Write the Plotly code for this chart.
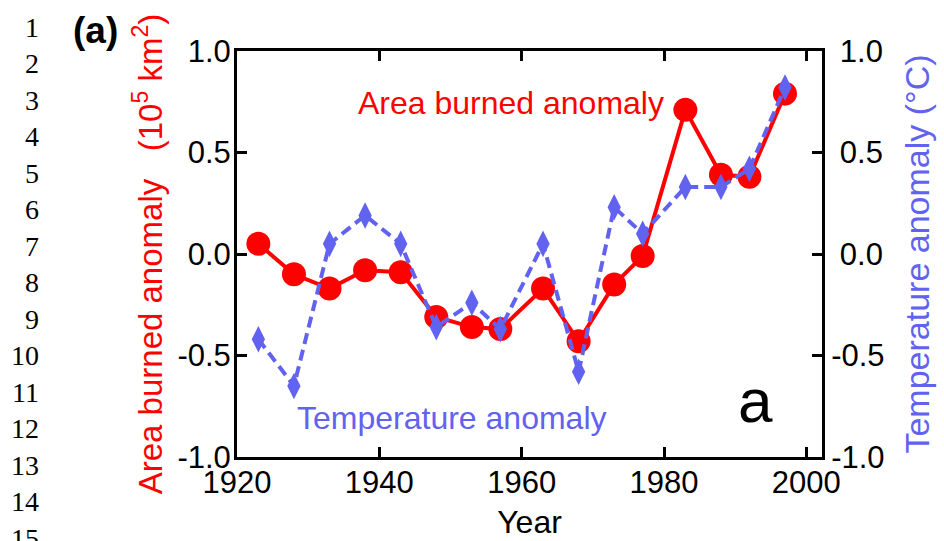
import plotly.graph_objects as go

# ---- data ----
years = [1923, 1928, 1933, 1938, 1943, 1948, 1953, 1957, 1963, 1968, 1973, 1977, 1983, 1988, 1992, 1997]
area_anomaly = [0.05, -0.10, -0.17, -0.08, -0.09, -0.31, -0.36, -0.37, -0.17, -0.43, -0.15, -0.01, 0.71, 0.39, 0.38, 0.79]
temp_anomaly = [-0.42, -0.65, 0.05, 0.19, 0.05, -0.36, -0.24, -0.37, 0.05, -0.58, 0.23, 0.10, 0.33, 0.33, 0.42, 0.82]

x_ticks = [1920, 1940, 1960, 1980, 2000]
y_ticks = [-1.0, -0.5, 0.0, 0.5, 1.0]
y_ticktext = ["-1.0", "-0.5", "0.0", "0.5", "1.0"]
y2_ticktext = ["-1.0", "-0.5", "\u00a00.0", "\u00a00.5", "\u00a01.0"]
line_numbers = [str(i) for i in range(1, 16)]

RED = "#FF0000"
BLUE = "#6262F0"
FONT = "Liberation Sans, Arial, sans-serif"

W, H = 944, 541
ML, MR, MT, MB = 237, 122, 51, 84
PW, PH = W - ML - MR, H - MT - MB


def px_to_paper(px, py):
    return (px - ML) / PW, (H - MB - py) / PH


fig = go.Figure()

fig.add_trace(go.Scatter(
    x=years, y=area_anomaly, mode="lines+markers",
    line=dict(color=RED, width=4),
    marker=dict(symbol="circle", size=24, color=RED),
    name="Area burned anomaly", yaxis="y",
))
fig.add_trace(go.Scatter(
    x=years, y=temp_anomaly, mode="lines+markers",
    line=dict(color=BLUE, width=4, dash="11px,6px"),
    marker=dict(symbol="diamond-tall", size=19, color=BLUE),
    name="Temperature anomaly", yaxis="y2",
))

axis_common = dict(
    showline=True, linecolor="black", linewidth=3,
    ticks="inside", ticklen=10, tickwidth=2.5, tickcolor="black",
    showgrid=False, zeroline=False,
    tickfont=dict(family=FONT, size=31, color="black"),
)

fig.update_layout(
    width=W, height=H,
    margin=dict(l=ML, r=MR, t=MT, b=MB, autoexpand=False),
    paper_bgcolor="white", plot_bgcolor="white",
    showlegend=False,
    font=dict(family=FONT, size=31, color="black"),
    xaxis=dict(
        range=[1920, 2002.2], tickvals=x_ticks, mirror="ticks", ticklabelstandoff=-4,
        title=dict(text="Year", font=dict(family=FONT, size=32, color="black"), standoff=12),
        **axis_common,
    ),
    yaxis=dict(
        range=[-1, 1], tickvals=y_ticks, ticktext=y_ticktext, ticklabelstandoff=-3,
        title=dict(text="Area burned anomaly\u00a0\u00a0 (10<sup>5</sup> km<sup>2</sup>)",
                   font=dict(family=FONT, size=33, color=RED), standoff=5),
        **axis_common,
    ),
    yaxis2=dict(
        range=[-1, 1], tickvals=y_ticks, ticktext=y2_ticktext,
        overlaying="y", side="right",
        title=dict(text="Temperature anomaly (°C)\u00a0",
                   font=dict(family=FONT, size=34, color=BLUE), standoff=22),
        **axis_common,
    ),
)

# in-plot labels
fig.add_annotation(x=1958.5, y=0.745, xref="x", yref="y", text="Area burned anomaly",
                   showarrow=False, font=dict(family=FONT, size=32, color=RED))
fig.add_annotation(x=1950.1, y=-0.81, xref="x", yref="y", text="Temperature anomaly",
                   showarrow=False, font=dict(family=FONT, size=32, color=BLUE))
fig.add_annotation(x=1992.9, y=-0.72, xref="x", yref="y", text="a",
                   showarrow=False, font=dict(family=FONT, size=62, color="black"))

# panel label
ax_, ay_ = px_to_paper(95.5, 30)
fig.add_annotation(x=ax_, y=ay_, xref="paper", yref="paper", text="<b>(a)</b>",
                   showarrow=False, xanchor="center", yanchor="middle",
                   font=dict(family=FONT, size=37, color="black"))

# manuscript line numbers
for i, lab in enumerate(line_numbers):
    lx, ly = px_to_paper(41, 27 + 36.5 * i)
    fig.add_annotation(x=lx, y=ly, xref="paper", yref="paper", text=lab,
                       showarrow=False, xanchor="right", yanchor="middle",
                       font=dict(family="Liberation Serif, Times New Roman, serif", size=28, color="black"))

fig.write_html("out.html", config={"displayModeBar": False},
               post_script="document.body.style.margin='0px';")
